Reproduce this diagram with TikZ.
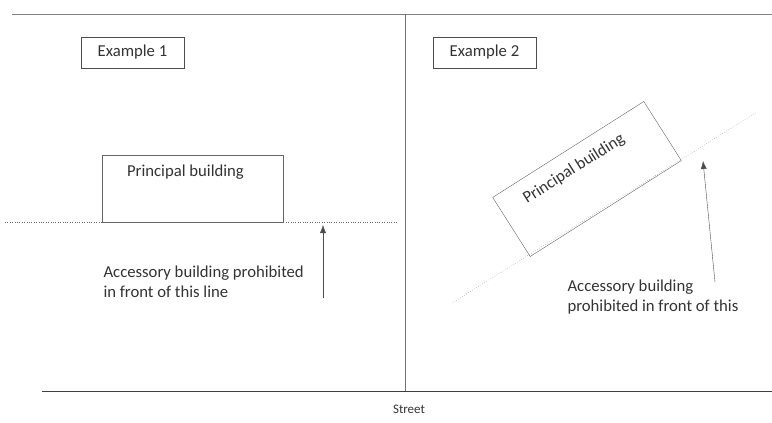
\documentclass[tikz,border=0pt]{standalone}
\usepackage{fontspec}
\setmainfont{Carlito}
\usetikzlibrary{positioning,arrows.meta}
\begin{document}
\begin{tikzpicture}[x=1pt, y=-1pt,
    lbl/.style={text=black!80, font=\fontsize{16.7}{20}\selectfont},
    tagbox/.style={draw=black!70, thin, minimum width=103pt, minimum height=31pt, inner sep=0pt, lbl},
    bldg/.style={draw=black!60, thin, inner sep=0pt},
    setback/.style={draw=black!60, dotted, thin},
    arr/.style={draw=black!70, thin, -{Latex[length=8pt,width=6pt]}}]
  \useasboundingbox (0,0) rectangle (772,423);
  % lot lines
  \coordinate (tl) at (12,14);
  \coordinate (tr) at (772,14);
  \coordinate (mt) at (405,14);
  \coordinate (mb) at (405,391);
  \coordinate (bl) at (42,391);
  \coordinate (br) at (772,391);
  \draw[black!50, thin] (tl) -- (tr);
  \draw[black!55, thin] (mt) -- (mb);
  \draw[black!75, semithick] (bl) -- (br);
  \node[lbl, font=\fontsize{13}{15}\selectfont] (street) at (409,409) {Street};
  % example 1
  \node[tagbox] (ex1) at (132.5,52.5) {Example 1};
  \node[bldg, minimum width=181pt, minimum height=67pt,
        label={[lbl, anchor=north, xshift=-7pt, yshift=-7pt]north:Principal building}] (bldgA) at (192.5,188.5) {};
  \coordinate (lineAw) at (5,222);
  \coordinate (lineAe) at (398,222);
  \draw[setback] (lineAw) -- (lineAe);
  \coordinate (arrA) at (323,298);
  \coordinate (tipA) at (323,225);
  \draw[arr] (arrA) -- (tipA);
  \node[lbl, align=left, anchor=west] (noteA) at (100,281.5) {Accessory building prohibited\\in front of this line};
  % example 2
  \node[tagbox] (ex2) at (484.5,52.5) {Example 2};
  \node[bldg, rotate=32.4, minimum width=179pt, minimum height=70pt] (bldgB) at (587,179) {};
  \node[lbl, rotate=32.4] (nameB) at (574,169) {Principal building};
  \coordinate (lineBw) at (452,303);
  \coordinate (lineBe) at (757,112);
  \draw[setback] (lineBw) -- (lineBe);
  \coordinate (arrB) at (715,282);
  \coordinate (tipB) at (703,161);
  \draw[arr] (arrB) -- (tipB);
  \node[lbl, align=left, anchor=west] (noteB) at (564,297.5) {Accessory building\\prohibited in front of this};
\end{tikzpicture}
\end{document}
